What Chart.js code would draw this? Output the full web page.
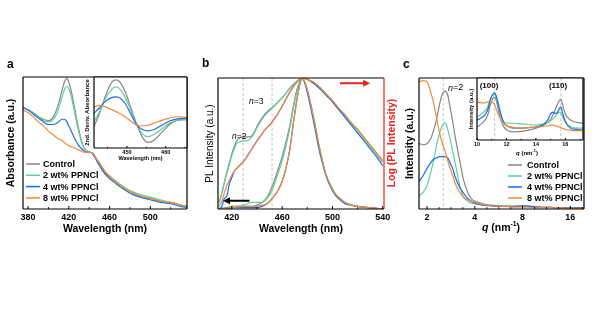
<!DOCTYPE html>
<html>
<head>
<meta charset="utf-8">
<script src="https://cdn.jsdelivr.net/npm/chart.js@4.4.0/dist/chart.umd.min.js"></script>
<style>
  html, body { margin: 0; background: #fff; }
  #wrap { position: relative; width: 600px; height: 324px; }
  #wrap canvas { position: absolute; left: 0; top: 0; }
</style>
</head>
<body>
<div id="wrap">
  <canvas id="absMain" width="600" height="324"></canvas>
  <canvas id="absInset" width="600" height="324"></canvas>
  <canvas id="plMain" width="600" height="324"></canvas>
  <canvas id="xrdMain" width="600" height="324"></canvas>
  <canvas id="xrdInset" width="600" height="324"></canvas>
</div>
<script>
// series shared by all panels
const seriesNames = ['Control', '2 wt% PPNCl', '4 wt% PPNCl', '8 wt% PPNCl'];
const seriesColors = ['#858585', '#62cf95', '#1d6bec', '#f5883a'];

// (a) absorbance
const absWl = [375, 380, 385, 390, 395, 400, 405, 410, 413, 416, 418, 420, 423, 426, 429, 432, 435, 438, 441, 444, 447, 450, 455, 460, 465, 470, 480, 490, 500, 510, 520, 530, 536];
const absControl = [0.77, 0.75, 0.73, 0.70, 0.68, 0.67, 0.70, 0.80, 0.89, 0.97, 0.99, 0.96, 0.87, 0.75, 0.63, 0.53, 0.46, 0.44, 0.43, 0.42, 0.38, 0.34, 0.28, 0.24, 0.21, 0.18, 0.13, 0.10, 0.08, 0.06, 0.05, 0.03, 0.02];
const absWt2 = [0.77, 0.75, 0.73, 0.70, 0.67, 0.66, 0.68, 0.76, 0.84, 0.91, 0.93, 0.91, 0.83, 0.72, 0.61, 0.52, 0.46, 0.44, 0.43, 0.42, 0.38, 0.35, 0.29, 0.25, 0.22, 0.19, 0.14, 0.11, 0.09, 0.07, 0.05, 0.03, 0.02];
const absWt4 = [0.77, 0.75, 0.72, 0.69, 0.66, 0.64, 0.64, 0.66, 0.68, 0.68, 0.66, 0.63, 0.58, 0.53, 0.49, 0.46, 0.44, 0.43, 0.43, 0.41, 0.37, 0.33, 0.27, 0.23, 0.20, 0.17, 0.12, 0.09, 0.07, 0.05, 0.04, 0.02, 0.01];
const absWt8 = [0.75, 0.73, 0.70, 0.66, 0.63, 0.59, 0.56, 0.53, 0.52, 0.50, 0.49, 0.48, 0.47, 0.46, 0.45, 0.44, 0.43, 0.43, 0.43, 0.42, 0.38, 0.35, 0.29, 0.25, 0.21, 0.18, 0.13, 0.10, 0.08, 0.06, 0.05, 0.03, 0.02];
const absTicks = [380, 420, 460, 500];
const absMinor = [400, 440, 480, 520];

// (a) inset: 2nd derivative of absorbance
const derivWl = [441.5, 443, 444.5, 446, 447, 448, 449.5, 451, 452.6, 454, 455.4, 457, 459, 461, 463, 465.5];
const derivControl = [0.30, 0.50, 0.74, 0.92, 0.96, 0.94, 0.80, 0.57, 0.32, 0.15, 0.08, 0.11, 0.22, 0.33, 0.39, 0.40];
const derivWt2 = [0.37, 0.52, 0.70, 0.82, 0.86, 0.84, 0.72, 0.53, 0.32, 0.20, 0.16, 0.19, 0.27, 0.35, 0.39, 0.40];
const derivWt4 = [0.49, 0.57, 0.66, 0.71, 0.72, 0.71, 0.63, 0.48, 0.32, 0.26, 0.24, 0.26, 0.32, 0.38, 0.41, 0.42];
const derivWt8 = [0.58, 0.60, 0.58, 0.54, 0.52, 0.49, 0.44, 0.38, 0.32, 0.31, 0.32, 0.35, 0.39, 0.42, 0.44, 0.43];
const derivTicks = [450, 460];
const derivMinor = [445, 455, 465];

// (b) PL, linear scale (left axis)
const plWl = [410, 420, 430, 436, 440, 444, 448, 452, 456, 460, 463, 466, 469, 472, 474, 476, 478, 480, 483, 486, 489, 492, 495, 498, 502, 506, 510, 515, 520, 530, 540];
const plControl = [0.00, 0.01, 0.02, 0.02, 0.03, 0.05, 0.09, 0.17, 0.28, 0.40, 0.51, 0.63, 0.79, 0.92, 0.97, 1.00, 0.97, 0.91, 0.79, 0.65, 0.50, 0.37, 0.26, 0.19, 0.12, 0.08, 0.05, 0.03, 0.02, 0.01, 0.00];
const plWt2 = [0.00, 0.02, 0.03, 0.05, 0.05, 0.05, 0.08, 0.14, 0.25, 0.37, 0.48, 0.61, 0.77, 0.91, 0.97, 1.00, 0.97, 0.91, 0.79, 0.65, 0.50, 0.37, 0.26, 0.19, 0.12, 0.08, 0.05, 0.03, 0.02, 0.01, 0.00];
const plWt4 = [0.00, 0.01, 0.01, 0.01, 0.01, 0.02, 0.04, 0.08, 0.13, 0.21, 0.31, 0.45, 0.66, 0.85, 0.95, 1.00, 0.96, 0.89, 0.76, 0.62, 0.47, 0.35, 0.25, 0.18, 0.11, 0.07, 0.04, 0.03, 0.02, 0.01, 0.00];
const plWt8 = [0.00, 0.01, 0.02, 0.02, 0.02, 0.03, 0.04, 0.08, 0.13, 0.21, 0.31, 0.45, 0.66, 0.85, 0.95, 1.00, 0.97, 0.91, 0.79, 0.65, 0.50, 0.37, 0.26, 0.19, 0.12, 0.08, 0.05, 0.03, 0.02, 0.01, 0.00];

// (b) PL, log scale (right axis)
const logWl = [410, 412, 414, 416, 418, 420, 422, 424, 426, 428, 430, 432, 434, 436, 438, 440, 443, 446, 450, 454, 458, 462, 466, 470, 473, 476, 480, 485, 490, 495, 500, 505, 510, 515, 520, 525, 530, 535, 540];
const logControl = [0.05, 0.12, 0.20, 0.28, 0.35, 0.42, 0.48, 0.52, 0.54, 0.55, 0.55, 0.55, 0.55, 0.56, 0.59, 0.63, 0.68, 0.72, 0.76, 0.79, 0.83, 0.87, 0.92, 0.96, 0.985, 1.00, 0.99, 0.96, 0.92, 0.87, 0.82, 0.76, 0.71, 0.65, 0.60, 0.54, 0.48, 0.42, 0.36];
const logWt2 = [0.05, 0.12, 0.20, 0.27, 0.34, 0.41, 0.46, 0.50, 0.51, 0.52, 0.52, 0.52, 0.53, 0.55, 0.58, 0.62, 0.67, 0.71, 0.75, 0.79, 0.83, 0.87, 0.92, 0.96, 0.985, 1.00, 0.99, 0.96, 0.92, 0.87, 0.82, 0.76, 0.71, 0.65, 0.60, 0.54, 0.48, 0.42, 0.36];
const logWt4 = [0.00, 0.02, 0.08, 0.10, 0.19, 0.24, 0.29, 0.31, 0.33, 0.35, 0.37, 0.40, 0.43, 0.46, 0.49, 0.52, 0.56, 0.60, 0.64, 0.69, 0.75, 0.82, 0.89, 0.95, 0.98, 1.00, 0.99, 0.96, 0.92, 0.87, 0.82, 0.76, 0.70, 0.64, 0.58, 0.52, 0.46, 0.40, 0.33];
const logWt8 = [0.02, 0.06, 0.12, 0.18, 0.22, 0.26, 0.29, 0.31, 0.33, 0.35, 0.37, 0.40, 0.43, 0.46, 0.49, 0.52, 0.56, 0.60, 0.64, 0.69, 0.75, 0.82, 0.89, 0.95, 0.98, 1.00, 0.99, 0.97, 0.93, 0.88, 0.83, 0.77, 0.72, 0.66, 0.61, 0.55, 0.49, 0.43, 0.37];
const plTicks = [420, 460, 500, 540];
const plMinor = [440, 480, 520];
const plPhases = [429, 452];   // n=2, n=3 emission

// (c) GIWAXS, low q
const qVals = [1.78, 1.9, 2.0, 2.1, 2.2, 2.3, 2.4, 2.5, 2.6, 2.7, 2.8, 2.9, 3.0, 3.2, 3.4, 3.6, 3.8, 4.0, 4.5, 5, 6, 7, 8, 9, 10, 12, 14, 16, 19.5];
const qControl = [0.50, 0.49, 0.50, 0.53, 0.60, 0.69, 0.80, 0.88, 0.90, 0.87, 0.77, 0.67, 0.56, 0.38, 0.22, 0.13, 0.08, 0.06, 0.04, 0.03, 0.025, 0.02, 0.02, 0.02, 0.015, 0.012, 0.01, 0.008, 0.006];
const qWt2 = [0.10, 0.13, 0.18, 0.27, 0.37, 0.49, 0.58, 0.64, 0.66, 0.61, 0.53, 0.44, 0.36, 0.19, 0.09, 0.06, 0.045, 0.04, 0.03, 0.025, 0.02, 0.02, 0.025, 0.02, 0.015, 0.012, 0.01, 0.01, 0.008];
const qWt4 = [0.21, 0.26, 0.31, 0.35, 0.38, 0.39, 0.40, 0.40, 0.40, 0.39, 0.35, 0.31, 0.25, 0.17, 0.12, 0.08, 0.06, 0.045, 0.03, 0.025, 0.02, 0.02, 0.025, 0.02, 0.015, 0.012, 0.01, 0.01, 0.008];
const qWt8 = [0.97, 0.98, 0.97, 0.90, 0.81, 0.69, 0.58, 0.50, 0.44, 0.37, 0.31, 0.26, 0.20, 0.13, 0.09, 0.07, 0.06, 0.05, 0.035, 0.025, 0.02, 0.015, 0.015, 0.012, 0.01, 0.01, 0.008, 0.006, 0.005];
const qTicks = [2, 4, 8, 16];
const qMinor = [2.38, 2.83, 3.36, 4.76, 5.66, 6.73, 9.51, 11.31, 13.45, 19.03];
const qPhase = [2.53];          // n=2 reflection

// (c) inset, wide q
const wideQ = [10, 10.3, 10.55, 10.75, 10.9, 11.05, 11.2, 11.35, 11.55, 11.8, 12.1, 12.5, 13, 13.5, 14, 14.5, 14.8, 15.0, 15.15, 15.3, 15.45, 15.6, 15.7, 15.8, 16.0, 16.3, 16.7, 17.2];
const wideControl = [0.21, 0.26, 0.32, 0.42, 0.56, 0.66, 0.69, 0.60, 0.38, 0.22, 0.15, 0.13, 0.14, 0.16, 0.19, 0.24, 0.28, 0.33, 0.40, 0.48, 0.57, 0.64, 0.65, 0.58, 0.42, 0.33, 0.29, 0.27];
const wideWt2 = [0.37, 0.42, 0.47, 0.55, 0.66, 0.72, 0.73, 0.65, 0.45, 0.30, 0.27, 0.27, 0.26, 0.25, 0.24, 0.26, 0.28, 0.31, 0.34, 0.38, 0.42, 0.45, 0.44, 0.38, 0.29, 0.22, 0.19, 0.19];
const wideWt4 = [0.32, 0.36, 0.41, 0.50, 0.64, 0.73, 0.76, 0.68, 0.48, 0.29, 0.22, 0.19, 0.19, 0.20, 0.21, 0.25, 0.32, 0.42, 0.45, 0.43, 0.44, 0.51, 0.53, 0.45, 0.30, 0.20, 0.17, 0.16];
const wideWt8 = [0.61, 0.60, 0.60, 0.62, 0.63, 0.61, 0.56, 0.47, 0.36, 0.27, 0.22, 0.20, 0.19, 0.20, 0.21, 0.22, 0.23, 0.24, 0.24, 0.23, 0.22, 0.21, 0.20, 0.19, 0.17, 0.16, 0.15, 0.15];
const wideTicks = [10, 12, 14, 16];
const wideMinor = [11, 13, 15, 17];
const widePeaks = [11.2, 15.7];  // (100), (110)

const FAMILY = "'Liberation Sans', Arial, sans-serif";
const RED = '#e8231e';
Chart.defaults.color = '#000';
Chart.defaults.font.family = FAMILY;

const fnt = (size, weight = 'bold') => ({ family: FAMILY, size, weight });

// one line per sample, in the order Control .. 8 wt%, last one on top
function lines(xs, ysList, axis, withLabel = true) {
  return ysList.map((ys, i) => ({
    label: withLabel ? seriesNames[i] : undefined,
    data: xs.map((x, j) => ({ x, y: ys[j] })),
    borderColor: seriesColors[i],
    borderWidth: 1.2,
    pointRadius: 0,
    cubicInterpolationMode: 'monotone',
    yAxisID: axis || 'y',
    order: ysList.length - i
  }));
}

function xAxis(o) {
  return {
    type: o.type || 'linear', min: o.min, max: o.max,
    grid: { display: false, drawTicks: false }, border: { display: false },
    afterBuildTicks: s => { s.ticks = o.ticks.map(v => ({ value: v })); },
    afterFit: s => { s.height = o.height; },
    ticks: { font: fnt(o.size), color: '#000', padding: o.pad, maxRotation: 0, autoSkip: false, callback: v => v },
    title: o.title
      ? { display: true, text: o.title, font: fnt(o.titleSize), color: '#000', padding: { top: 0, bottom: o.titlePad } }
      : { display: false }
  };
}

function yAxis(o) {
  return {
    min: 0, max: 1, display: o.display !== false,
    grid: { display: false, drawTicks: false }, border: { display: false },
    ticks: { display: false },
    afterFit: s => { s.width = o.width; },
    title: o.title
      ? { display: true, text: o.title, font: fnt(o.size, o.weight || 'bold'), color: o.color || '#000', padding: { top: o.titlePad, bottom: 0 } }
      : { display: false }
  };
}

function richText(ctx, parts, x, y, size, weight, align) {
  const f = p => `${p.i ? 'italic ' : ''}${weight} ${p.s ? size * 0.65 : size}px ${FAMILY}`;
  let w = 0;
  parts.forEach(p => { ctx.font = f(p); w += ctx.measureText(p.t).width; });
  let cx = align === 'center' ? x - w / 2 : x;
  ctx.textAlign = 'left';
  ctx.textBaseline = 'middle';
  parts.forEach(p => {
    ctx.font = f(p);
    ctx.fillText(p.t, cx, p.s ? y - size * 0.33 : y);
    cx += ctx.measureText(p.t).width;
  });
}

// frame, inward ticks, guides, arrows, legend and free labels
const decor = {
  id: 'decor',
  beforeDatasetsDraw(chart, args, o) {
    const { ctx, chartArea: a, scales } = chart;
    ctx.save();
    if (o.fill) {
      ctx.fillStyle = o.fill;
      ctx.fillRect(a.left, a.top, a.right - a.left, a.bottom - a.top);
    }
    ctx.setLineDash([3, 2]);
    ctx.strokeStyle = '#c6c6c6';
    ctx.lineWidth = 1;
    (o.guides || []).forEach(v => {
      const x = scales.x.getPixelForValue(v);
      ctx.beginPath(); ctx.moveTo(x, a.top); ctx.lineTo(x, a.bottom); ctx.stroke();
    });
    ctx.restore();
  },
  afterDatasetsDraw(chart, args, o) {
    const { ctx, chartArea: a, scales } = chart;
    ctx.save();
    const fr = o.frame || {};
    const side = (c, x1, y1, x2, y2) => {
      ctx.strokeStyle = c; ctx.lineWidth = 1.2;
      ctx.beginPath(); ctx.moveTo(x1, y1); ctx.lineTo(x2, y2); ctx.stroke();
    };
    side(fr.top || '#000', a.left, a.top, a.right, a.top);
    side(fr.right || '#000', a.right, a.top, a.right, a.bottom);
    side(fr.bottom || '#000', a.left, a.bottom, a.right, a.bottom);
    side(fr.left || '#000', a.left, a.top, a.left, a.bottom);

    if (o.ticks) {
      ctx.strokeStyle = '#000'; ctx.lineWidth = 1;
      const mark = (v, len) => {
        const x = scales.x.getPixelForValue(v);
        ctx.beginPath(); ctx.moveTo(x, a.bottom); ctx.lineTo(x, a.bottom - len); ctx.stroke();
      };
      o.ticks.major.forEach(v => mark(v, o.ticks.len || 3));
      o.ticks.minor.forEach(v => mark(v, (o.ticks.len || 3) * 0.6));
    }

    (o.arrows || []).forEach(ar => {
      const y = scales.y.getPixelForValue(ar.y);
      const x1 = scales.x.getPixelForValue(ar.from);
      const x2 = scales.x.getPixelForValue(ar.to);
      const dir = Math.sign(x2 - x1);
      ctx.strokeStyle = ar.color; ctx.fillStyle = ar.color; ctx.lineWidth = 2;
      ctx.beginPath(); ctx.moveTo(x1, y); ctx.lineTo(x2 - dir * 5, y); ctx.stroke();
      ctx.beginPath(); ctx.moveTo(x2, y); ctx.lineTo(x2 - dir * 7, y - 3.5); ctx.lineTo(x2 - dir * 7, y + 3.5); ctx.closePath(); ctx.fill();
    });

    if (o.legend) {
      const L = o.legend;
      chart.data.datasets.forEach((ds, i) => {
        const y = L.y + i * L.step;
        ctx.strokeStyle = ds.borderColor; ctx.lineWidth = 1.5;
        ctx.beginPath(); ctx.moveTo(L.x, y); ctx.lineTo(L.x + 14, y); ctx.stroke();
        ctx.fillStyle = '#000';
        ctx.font = `bold 9px ${FAMILY}`;
        ctx.textAlign = 'left'; ctx.textBaseline = 'middle';
        ctx.fillText(ds.label, L.x + L.gap, y + 0.5);
      });
    }

    (o.texts || []).forEach(tx => {
      ctx.save();
      ctx.fillStyle = tx.color || '#000';
      ctx.translate(tx.x, tx.y);
      if (tx.rotate) ctx.rotate(-Math.PI / 2);
      richText(ctx, tx.parts, 0, 0, tx.size, tx.weight || 'bold', tx.align || 'left');
      ctx.restore();
    });
    ctx.restore();
  }
};

function make(id, datasets, scales, pad, decorOpts) {
  return new Chart(document.getElementById(id), {
    type: 'line',
    data: { datasets },
    options: {
      responsive: false, animation: false, devicePixelRatio: 1, events: [],
      layout: { padding: pad },
      scales,
      plugins: { legend: { display: false }, tooltip: { enabled: false }, decor: decorOpts }
    },
    plugins: [decor]
  });
}

const qTitle = [{ t: 'q', i: true }, { t: ' (nm' }, { t: '-1', s: true }, { t: ')' }];

// (a) absorbance
make('absMain',
  lines(absWl, [absControl, absWt2, absWt4, absWt8]),
  {
    x: xAxis({ min: 375, max: 536, ticks: absTicks, height: 29, size: 9, pad: 3, title: 'Wavelength (nm)', titleSize: 10.5, titlePad: 3 }),
    y: yAxis({ width: 23, title: 'Absorbance (a.u.)', size: 10.5, titlePad: 5 })
  },
  { left: 0, top: 77, right: 413, bottom: 86 },
  {
    ticks: { major: absTicks, minor: absMinor },
    legend: { x: 26, y: 164, step: 11.3, gap: 17 },
    texts: [{ x: 7, y: 65, parts: [{ t: 'a' }], size: 12 }]
  });

make('absInset',
  lines(derivWl, [derivControl, derivWt2, derivWt4, derivWt8]),
  {
    x: xAxis({ min: 441.5, max: 465.5, ticks: derivTicks, height: 14, size: 5.5, pad: 1, title: 'Wavelength (nm)', titleSize: 5.5, titlePad: 0 }),
    y: yAxis({ width: 12, title: '2nd. Deriv. Absorbance', size: 6, titlePad: 2 })
  },
  { left: 82, top: 77, right: 413, bottom: 162 },
  { fill: '#fff', ticks: { major: derivTicks, minor: derivMinor, len: 2 } });

// (b) photoluminescence: linear (left) and log (right)
make('plMain',
  lines(plWl, [plControl, plWt2, plWt4, plWt8]).concat(lines(logWl, [logControl, logWt2, logWt4, logWt8], 'y2', false)),
  {
    x: xAxis({ min: 409, max: 541, ticks: plTicks, height: 29, size: 9, pad: 3, title: 'Wavelength (nm)', titleSize: 10.5, titlePad: 3 }),
    y: yAxis({ width: 18, title: 'PL Intensity (a.u.)', size: 10, weight: 'normal', titlePad: 4 }),
    y2: yAxis({ display: false, width: 0 })
  },
  { left: 200, top: 78, right: 216, bottom: 86 },
  {
    frame: { right: RED },
    guides: plPhases,
    ticks: { major: plTicks, minor: plMinor },
    arrows: [
      { from: 506, to: 530, y: 0.96, color: RED },
      { from: 434, to: 413, y: 0.063, color: '#000' }
    ],
    texts: [
      { x: 202, y: 64, parts: [{ t: 'b' }], size: 12 },
      { x: 232, y: 137, parts: [{ t: 'n', i: true }, { t: '=2' }], size: 8.5, weight: 'normal' },
      { x: 249, y: 102, parts: [{ t: 'n', i: true }, { t: '=3' }], size: 8.5, weight: 'normal' },
      { x: 392, y: 143, parts: [{ t: 'Log (PL Intensity)' }], size: 10.5, color: RED, rotate: true, align: 'center' }
    ]
  });

// (c) GIWAXS
make('xrdMain',
  lines(qVals, [qControl, qWt2, qWt4, qWt8]),
  {
    x: xAxis({ type: 'logarithmic', min: 1.78, max: 19.5, ticks: qTicks, height: 29, size: 9, pad: 3 }),
    y: yAxis({ width: 19, title: 'Intensity (a.u.)', size: 10.5, titlePad: 4 })
  },
  { left: 400, top: 78, right: 16, bottom: 86 },
  {
    guides: qPhase,
    ticks: { major: qTicks, minor: qMinor },
    legend: { x: 508, y: 165, step: 11, gap: 19 },
    texts: [
      { x: 403, y: 65, parts: [{ t: 'c' }], size: 12 },
      { x: 448, y: 88, parts: [{ t: 'n', i: true }, { t: '=2' }], size: 9, weight: 'normal' },
      { x: 501, y: 228, parts: qTitle, size: 10.5, align: 'center' }
    ]
  });

make('xrdInset',
  lines(wideQ, [wideControl, wideWt2, wideWt4, wideWt8]),
  {
    x: xAxis({ min: 10, max: 17.2, ticks: wideTicks, height: 17, size: 5.5, pad: 1 }),
    y: yAxis({ width: 11, title: 'Intensity (a.u.)', size: 6, titlePad: 2 })
  },
  { left: 466, top: 78, right: 17, bottom: 167 },
  {
    fill: '#fff',
    guides: widePeaks,
    ticks: { major: wideTicks, minor: wideMinor, len: 2 },
    texts: [
      { x: 489, y: 86, parts: [{ t: '(100)' }], size: 8, align: 'center' },
      { x: 558, y: 86, parts: [{ t: '(110)' }], size: 8, align: 'center' },
      { x: 527, y: 153, parts: qTitle, size: 6, align: 'center' }
    ]
  });
</script>
</body>
</html>
